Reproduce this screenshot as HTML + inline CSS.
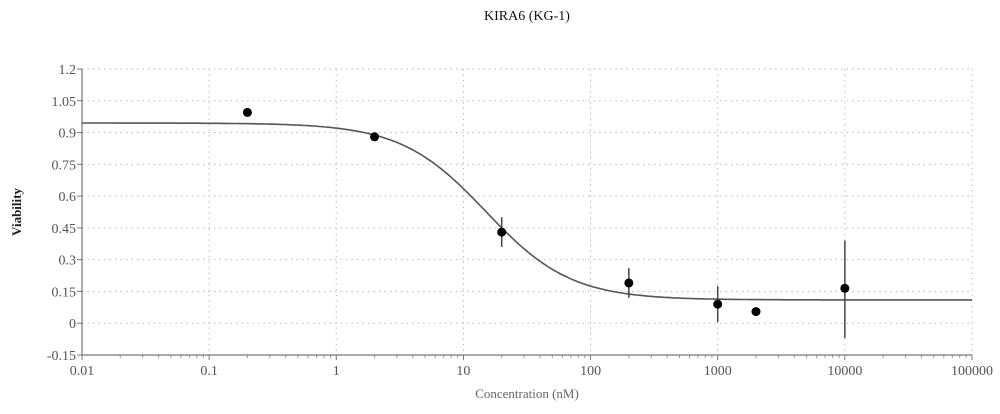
<!DOCTYPE html>
<html><head><meta charset="utf-8"><style>
body{margin:0;background:#fff;}
svg{font-family:"Liberation Serif",serif;}
</style></head><body>
<svg id="c" width="1000" height="409">
<text x="527" y="20" text-anchor="middle" font-size="14" fill="#111">KIRA6 (KG-1)</text>
<text transform="translate(21,212) rotate(-90)" text-anchor="middle" font-size="13" fill="#222" font-weight="bold">Viability</text>
<text x="527" y="398" text-anchor="middle" font-size="13" fill="#666">Concentration (nM)</text>
<g id="grid"></g><g id="axes"></g><g id="marks"></g>
</svg>
<script>
const xTicks=[0.01,0.1,1,10,100,1000,10000,100000];
const xTickLabels=["0.01","0.1","1","10","100","1000","10000","100000"];
const yTicks=[-0.15,0,0.15,0.3,0.45,0.6,0.75,0.9,1.05,1.2];
const yTickLabels=["-0.15","0","0.15","0.3","0.45","0.6","0.75","0.9","1.05","1.2"];
const concentrations=[0.2,2,20,200,1000,2000,10000];
const viability=[0.995,0.88,0.43,0.19,0.09,0.055,0.165];
const errLow=[0.995,0.88,0.36,0.12,0.005,0.055,-0.07];
const errHigh=[0.995,0.88,0.50,0.26,0.175,0.055,0.39];
const fitTop=[0.945];const fitBottom=[0.11];const fitIC50=[15];const fitHill=[1.3];
const NS="http://www.w3.org/2000/svg";
const X0=82,X1=972,Y0=355,Y1=69;
const lx=v=>X0+(Math.log10(v)-(-2))/7*(X1-X0);
const ly=v=>Y0-(v+0.15)/1.35*(Y0-Y1);
function mk(t,a,p){const e=document.createElementNS(NS,t);for(const k in a)e.setAttribute(k,a[k]);p.appendChild(e);return e;}
const grid=document.getElementById('grid'),axes=document.getElementById('axes'),marks=document.getElementById('marks');
yTicks.forEach((v,i)=>{
 if(i>0){const g=mk('line',{x1:X0,x2:X1,y1:ly(v),y2:ly(v),stroke:'#bbb','stroke-dasharray':'1.5 4'},grid);
 }
 const t=mk('line',{x1:X0-5,x2:X0,y1:ly(v),y2:ly(v),stroke:'#777'},axes);
 
 const l=mk('text',{x:X0-6,y:ly(v)+5,'text-anchor':'end','font-size':14,fill:'#555'},axes);l.textContent=yTickLabels[i];
 
});
xTicks.forEach((v,i)=>{
 if(i>0){const g=mk('line',{x1:lx(v),x2:lx(v),y1:Y1,y2:Y0,stroke:'#bbb','stroke-dasharray':'1.5 4'},grid);
 }
 const t=mk('line',{x1:lx(v),x2:lx(v),y1:Y0,y2:Y0+5,stroke:'#777'},axes);
 
 const l=mk('text',{x:lx(v),y:Y0+20,'text-anchor':'middle','font-size':14,fill:'#555'},axes);l.textContent=xTickLabels[i];
 
 if(i<xTicks.length-1)for(let m=2;m<10;m++){const mt=mk('line',{x1:lx(v*m),x2:lx(v*m),y1:Y0,y2:Y0+3,stroke:'#999'},axes);
 }
});
const ax=mk('path',{d:`M${X0},${Y1}V${Y0}H${X1}`,fill:'none',stroke:'#777','stroke-width':1.2},axes);

let d='';for(let i=0;i<=300;i++){const lv=-2+7*i/300,c=Math.pow(10,lv);
 const y=fitBottom[0]+(fitTop[0]-fitBottom[0])/(1+Math.pow(c/fitIC50[0],fitHill[0]));
 d+=(i?'L':'M')+lx(c).toFixed(1)+','+ly(y).toFixed(1);}
const fc=mk('path',{d:d,fill:'none',stroke:'#555','stroke-width':1.6},marks);

concentrations.forEach((c,i)=>{
 if(errHigh[i]>errLow[i]){const e=mk('line',{x1:lx(c),x2:lx(c),y1:ly(errLow[i]),y2:ly(errHigh[i]),stroke:'#444','stroke-width':1.5},marks);
 }
 const p=mk('circle',{cx:lx(c),cy:ly(viability[i]),r:4.5,fill:'#000'},marks);
 
});
</script>
</body></html>
